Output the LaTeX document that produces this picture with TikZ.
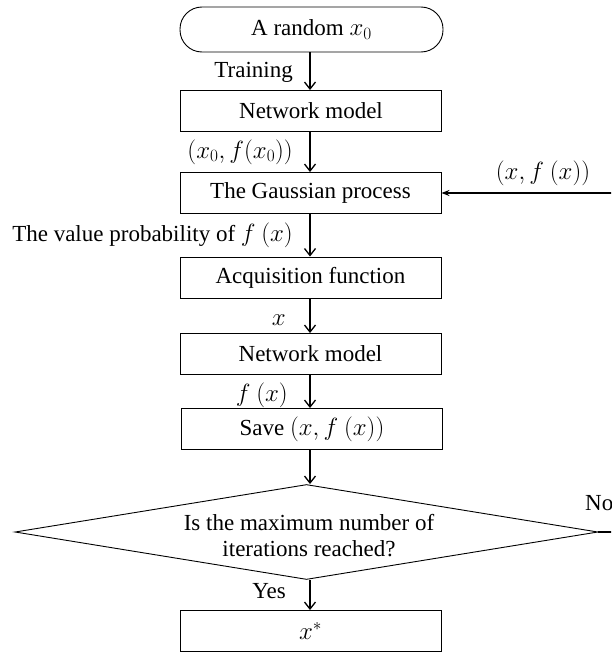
\documentclass[tikz,border=0pt]{standalone}
\usepackage{fontspec}
\setmainfont{Liberation Serif}
\usetikzlibrary{shapes.geometric,arrows.meta}
\begin{document}
\begin{tikzpicture}[x=1pt,y=-1pt,
  font=\fontsize{23}{26}\selectfont,
  box/.style={draw, line width=0.9pt, minimum width=261pt, minimum height=41pt, inner sep=0pt},
  term/.style={draw, line width=0.9pt, rounded corners=22pt, minimum width=263pt, minimum height=45pt, inner sep=0pt},
  flow/.style={line width=1.5pt, -{Straight Barb[length=7pt,width=11pt,line width=1.3pt]}},
  back/.style={line width=1.5pt, -{Stealth[length=8pt,width=6pt]}},
  lbl/.style={inner sep=0pt}]
\useasboundingbox (0,0) rectangle (611,653);
\clip (0,0) rectangle (611,653);
\node[term] (start) at (311.5,29.5) {A random $x_0$};
\node[box] (nm1) at (311,111) {Network model};
\node[box] (gp) at (310.5,193) {The Gaussian process};
\node[box] (af) at (310.5,277.5) {Acquisition function};
\node[box] (nm2) at (310.5,354) {Network model};
\node[box] (save) at (312,429) {Save $(x, f\ (x))$};
\node[draw, line width=0.9pt, diamond, minimum width=583pt, minimum height=95pt, inner sep=0pt] (dec) at (306.5,532) {};
\node[align=center, inner sep=0pt] (dectext) at (309,536) {Is the maximum number of\\iterations reached?};
\node[box] (res) at (310.5,631) {$x^*$};
\coordinate (arx) at (310,0);
\draw[flow] (start.south -| arx) -- (nm1.north -| arx);
\draw[flow] (nm1.south -| arx) -- (gp.north -| arx);
\draw[flow] (gp.south -| arx) -- (af.north -| arx);
\draw[flow] (af.south -| arx) -- (nm2.north -| arx);
\draw[flow] (nm2.south -| arx) -- (save.north -| arx);
\draw[flow] (save.south -| arx) -- (dec.north -| arx);
\draw[flow] (dec.south -| arx) -- (res.north -| arx);
\coordinate (loopr) at (650,0);
\draw[back] (dec.east) -- (dec.east -| loopr) -- (gp.east -| loopr) -- (gp.east);
\node[lbl, anchor=east] (ltrain) at (293,72) {Training};
\node[lbl, anchor=east] (lx0) at (293,152) {$(x_0, f(x_0))$};
\node[lbl] (lxf) at (543,173) {$(x, f\ (x))$};
\node[lbl, anchor=east] (lprob) at (293,235) {The value probability of $f\ (x)$};
\node[lbl, anchor=east] (lx) at (286,320) {$x$};
\node[lbl, anchor=east] (lfx) at (288,395) {$f\ (x)$};
\node[lbl, anchor=west] (lno) at (585,503) {No};
\node[lbl, anchor=east] (lyes) at (286,591) {Yes};
\end{tikzpicture}
\end{document}
